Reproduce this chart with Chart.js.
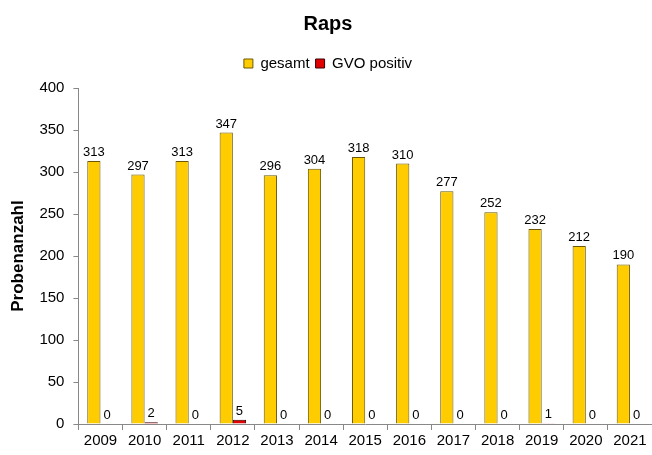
<!DOCTYPE html>
<html>
<head>
<meta charset="utf-8">
<script src="https://cdn.jsdelivr.net/npm/chart.js@4.4.1/dist/chart.umd.min.js"></script>
<style>
  html, body { margin: 0; padding: 0; background: #fff; }
  #wrap { width: 652px; height: 455px; }
</style>
</head>
<body>
<div id="wrap"><canvas id="raps"></canvas></div>
<script>
const years = ['2009','2010','2011','2012','2013','2014','2015','2016','2017','2018','2019','2020','2021']
const gesamt = [313, 297, 313, 347, 296, 304, 318, 310, 277, 252, 232, 212, 190]
const gvoPositiv = [0, 2, 0, 5, 0, 0, 0, 0, 0, 0, 1, 0, 0]
const yTicks = [0, 50, 100, 150, 200, 250, 300, 350, 400]

const FONT = '"Liberation Sans", Arial, sans-serif'

// Werte ueber die Balken schreiben
const valueLabels = {
  id: 'valueLabels',
  afterDatasetsDraw: (chart) => {
    const c = chart.ctx
    c.save()
    c.font = '13px ' + FONT
    c.fillStyle = '#000'
    c.textAlign = 'center'
    c.textBaseline = 'bottom'
    chart.data.datasets.forEach((ds, i) => {
      chart.getDatasetMeta(i).data.forEach((bar, j) => {
        c.fillText(ds.data[j], bar.x, bar.y - 2)
      })
    })
    c.restore()
  }
}

// etwas mehr Abstand unter der Legende
const legendGap = {
  id: 'legendGap',
  beforeInit: (chart) => {
    const orig = chart.legend.fit
    chart.legend.fit = function () {
      orig.bind(chart.legend)()
      this.height += 7
    }
  }
}

new Chart(document.getElementById('raps'), {
  type: 'bar',
  data: {
    labels: years,
    datasets: [
      {
        label: 'gesamt',
        data: gesamt,
        backgroundColor: '#ffcc00',
        borderColor: '#6b5800',
        borderWidth: 1,
        categoryPercentage: 0.6,
        barPercentage: 1
      },
      {
        label: 'GVO positiv',
        data: gvoPositiv,
        backgroundColor: '#e00000',
        borderColor: '#3a0000',
        borderWidth: 1,
        categoryPercentage: 0.6,
        barPercentage: 1
      }
    ]
  },
  options: {
    responsive: true,
    maintainAspectRatio: false,
    animation: false,
    events: [],
    layout: { padding: { left: 4, right: 0, top: 10, bottom: 3 } },
    plugins: {
      title: {
        display: true,
        text: 'Raps',
        color: '#000',
        font: { family: FONT, size: 20, weight: 'bold' },
        padding: { top: 2, bottom: 14 }
      },
      legend: {
        display: true,
        labels: {
          color: '#000',
          font: { family: FONT, size: 15 },
          boxWidth: 9,
          boxHeight: 9,
          padding: 6
        }
      },
      tooltip: { enabled: false }
    },
    scales: {
      x: {
        grid: { display: true, drawOnChartArea: false, tickLength: 6, color: '#888' },
        border: { color: '#888' },
        ticks: {
          color: '#000',
          padding: 2,
          font: { family: FONT, size: 15 },
          maxRotation: 0
        }
      },
      y: {
        min: 0,
        max: 400,
        afterBuildTicks: (axis) => { axis.ticks = yTicks.map(v => ({ value: v })) },
        grid: { display: true, drawOnChartArea: false, tickLength: 5, color: '#888' },
        border: { color: '#888' },
        ticks: {
          color: '#000',
          padding: 9,
          font: { family: FONT, size: 15 }
        },
        title: {
          display: true,
          text: 'Probenanzahl',
          color: '#000',
          font: { family: FONT, size: 17, weight: 'bold' },
          padding: { top: 4, bottom: 2 }
        }
      }
    }
  },
  plugins: [valueLabels, legendGap]
})
</script>
</body>
</html>
